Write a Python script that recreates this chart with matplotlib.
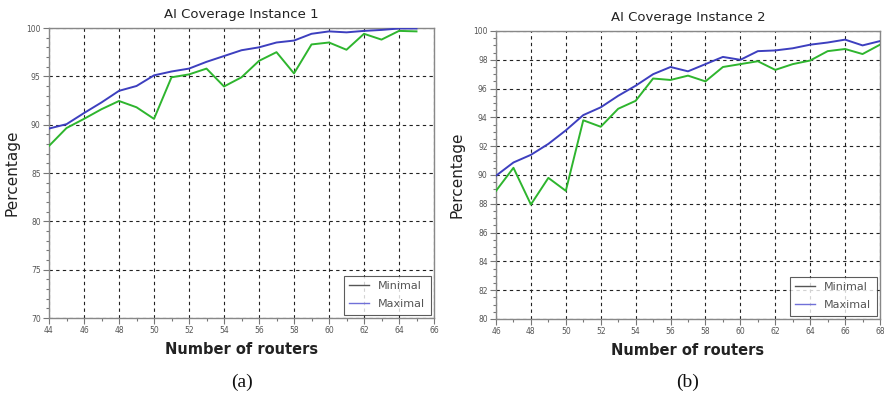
import matplotlib
matplotlib.use("Agg")
import matplotlib.pyplot as plt
from matplotlib.lines import Line2D
from matplotlib.ticker import MultipleLocator

# ---- data ----
x1 = list(range(44, 66))
max1 = [89.6, 90.05, 91.2, 92.3, 93.5, 94.0, 95.1, 95.5, 95.8, 96.5, 97.1,
        97.7, 98.0, 98.5, 98.7, 99.4, 99.65, 99.55, 99.7, 99.8, 99.95, 99.95]
min1 = [87.8, 89.65, 90.6, 91.6, 92.45, 91.8, 90.6, 94.9, 95.2, 95.8, 93.95,
        94.9, 96.6, 97.5, 95.3, 98.3, 98.5, 97.75, 99.4, 98.8, 99.7, 99.65]

x2 = list(range(46, 69))
max2 = [89.95, 90.87, 91.4, 92.16, 93.1, 94.16, 94.7, 95.5, 96.2, 97.0, 97.5,
        97.2, 97.7, 98.2, 98.0, 98.6, 98.65, 98.8, 99.05, 99.2, 99.4, 99.0, 99.3]
min2 = [88.9, 90.5, 87.95, 89.8, 88.9, 93.8, 93.35, 94.6, 95.15, 96.7, 96.6,
        96.9, 96.5, 97.5, 97.7, 97.9, 97.3, 97.7, 97.95, 98.6, 98.75, 98.4, 99.05]

titles = ["AI Coverage Instance 1", "AI Coverage Instance 2"]
captions = ["(a)", "(b)"]
legend_labels = ["Minimal", "Maximal"]

BLUE = "#3d3fbf"
GREEN = "#2eb52e"
TICKC = "#555555"

fig = plt.figure(figsize=(8.84, 4.01), dpi=100)

ax1 = fig.add_axes([49/884, 1-318/401, (434-49)/884, (318-28)/401])
ax2 = fig.add_axes([496/884, 1-319/401, (880-496)/884, (319-31)/401])

configs = [
    (ax1, x1, min1, max1, (44, 66), (70, 100), 5, 1, 5),
    (ax2, x2, min2, max2, (46, 68), (80, 100), 2, 0.5, 6),
]

for i, (ax, x, mn, mx, xl, yl, ymaj, ymin, lpad) in enumerate(configs):
    ax.plot(x, mn, color=GREEN, lw=1.4, zorder=3)
    ax.plot(x, mx, color=BLUE, lw=1.4, zorder=4)
    ax.set_xlim(*xl)
    ax.set_ylim(*yl)
    ax.xaxis.set_major_locator(MultipleLocator(2))
    ax.xaxis.set_minor_locator(MultipleLocator(1))
    ax.yaxis.set_major_locator(MultipleLocator(ymaj))
    ax.yaxis.set_minor_locator(MultipleLocator(ymin))
    ax.grid(True, which="major", color="#222222", linestyle=(0, (3, 3)), lw=0.8)
    for s in ax.spines.values():
        s.set_color("#888888")
        s.set_linewidth(1.0)
    ax.tick_params(which="major", direction="out", length=4, width=0.8,
                   colors="#777777", labelcolor=TICKC, labelsize=5.5, pad=2)
    ax.tick_params(which="minor", direction="out", length=2, width=0.8,
                   colors="#777777")
    ax.set_title(titles[i], fontsize=9.5, color="#222222", pad=7)
    ax.set_xlabel("Number of routers", fontsize=10.5, fontweight="semibold",
                  color="#222222", labelpad=5)
    ax.set_ylabel("Percentage", fontsize=11, color="#222222", labelpad=lpad)
    handles = [Line2D([], [], color="#555555", lw=1.0),
               Line2D([], [], color="#7070d8", lw=1.0)]
    leg = ax.legend(handles, legend_labels, loc="lower right", fontsize=8,
                    frameon=True, fancybox=False, edgecolor="#333333",
                    handlelength=1.8, labelspacing=0.7, borderpad=0.5,
                    borderaxespad=0.3, labelcolor="#555555")
    leg.get_frame().set_linewidth(0.8)
    cx = (ax.get_position().x0 + ax.get_position().x1) / 2
    fig.text(cx, 1-382/401, captions[i], ha="center", va="center",
             fontsize=14, family="Liberation Serif", color="#111111")

fig.savefig("out.png", dpi=100)
